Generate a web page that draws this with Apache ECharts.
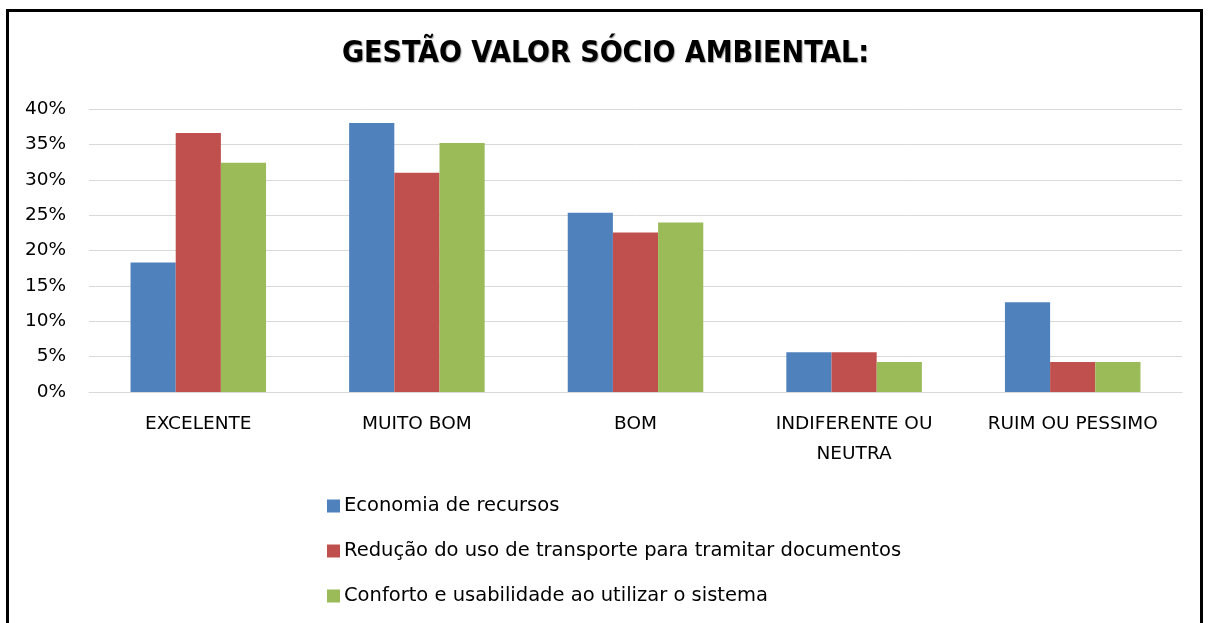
<!DOCTYPE html>
<html>
<head>
<meta charset="utf-8">
<script src="https://cdn.jsdelivr.net/npm/echarts@6/dist/echarts.min.js"></script>
<style>
  html, body { margin: 0; padding: 0; background: #fff; overflow: hidden; }
  #frame { position: absolute; left: 6px; top: 9px; width: 1197px; height: 640px; border: 3px solid #000; box-sizing: border-box; }
  #chart { position: absolute; left: 0; top: 0; width: 1211px; height: 623px; }
</style>
</head>
<body>
<div id="frame"></div>
<div id="chart"></div>
<script>
// dados
const categories = ['EXCELENTE', 'MUITO BOM', 'BOM', 'INDIFERENTE OU\nNEUTRA', 'RUIM OU PESSIMO'];
const economia = [18.31, 38.03, 25.35, 5.63, 12.68];
const reducao = [36.62, 30.99, 22.54, 5.63, 4.23];
const conforto = [32.39, 35.21, 23.94, 4.23, 4.23];
const seriesNames = [
  'Economia de recursos',
  'Redução do uso de transporte para tramitar documentos',
  'Conforto e usabilidade ao utilizar o sistema'
];
const colors = ['#4f81bd', '#c0504d', '#9bbb59'];

const chart = echarts.init(document.getElementById('chart'));
const font = 'DejaVu Sans, Open Sans, sans-serif';

const option = {
  animation: false,
  title: {
    text: 'GESTÃO VALOR SÓCIO AMBIENTAL:',
    left: 'center',
    top: 34,
    textStyle: {
      fontFamily: 'DejaVu Sans Condensed, Open Sans, sans-serif',
      fontWeight: 'bold',
      fontSize: 30,
      color: '#000',
      textShadowColor: 'rgba(0,0,0,0.35)',
      textShadowOffsetX: 1,
      textShadowOffsetY: 1,
      textShadowBlur: 1
    }
  },
  legend: {
    orient: 'vertical',
    left: 322,
    top: 491,
    itemWidth: 13,
    itemHeight: 13,
    itemGap: 25,
    icon: 'rect',
    data: seriesNames,
    textStyle: { fontFamily: font, fontSize: 19.5, lineHeight: 20, color: '#000', padding: [0, 0, 0, -1] }
  },
  grid: { left: 89, right: 29, top: 109, height: 283, containLabel: false },
  xAxis: {
    type: 'category',
    data: categories,
    axisLine: { lineStyle: { color: '#d9d9d9', width: 1 } },
    axisTick: { show: false },
    axisLabel: { interval: 0, hideOverlap: false, fontFamily: font, fontSize: 18.5, color: '#000', margin: 17, lineHeight: 30 }
  },
  yAxis: {
    type: 'value',
    min: 0,
    max: 40,
    interval: 5,
    axisLine: { show: false },
    axisTick: { show: false },
    splitLine: { lineStyle: { color: '#d9d9d9', width: 1 } },
    axisLabel: { fontFamily: font, fontSize: 18.5, color: '#000', margin: 23, formatter: '{value}%' }
  },
  series: [economia, reducao, conforto].map((d, i) => ({
    name: seriesNames[i],
    type: 'bar',
    data: d,
    barGap: '0%',
    barCategoryGap: '38%',
    itemStyle: { color: colors[i] }
  }))
};
chart.setOption(option);
</script>
</body>
</html>
